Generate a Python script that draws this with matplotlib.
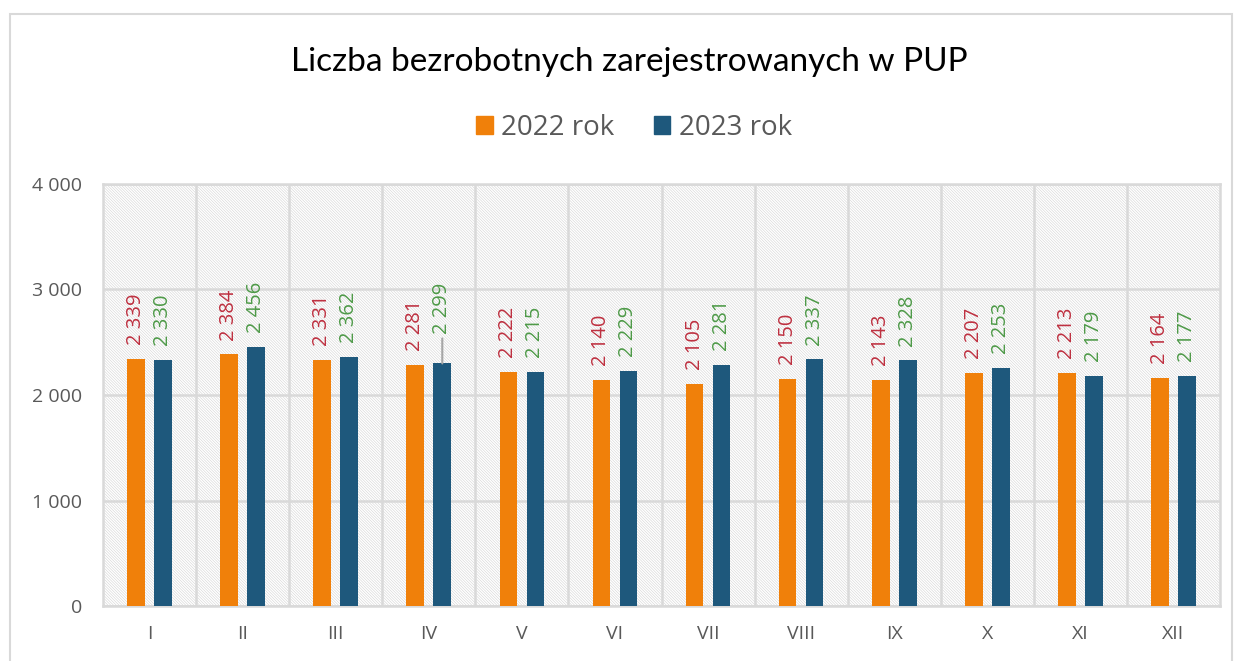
import matplotlib.pyplot as plt
from matplotlib.patches import Rectangle, Patch

plt.rcParams['font.family'] = ['Open Sans', 'DejaVu Sans']
plt.rcParams['hatch.linewidth'] = 0.4

months = ['I', 'II', 'III', 'IV', 'V', 'VI', 'VII', 'VIII', 'IX', 'X', 'XI', 'XII']
rok_2022 = [2339, 2384, 2331, 2281, 2222, 2140, 2105, 2150, 2143, 2207, 2213, 2164]
rok_2023 = [2330, 2456, 2362, 2299, 2215, 2229, 2281, 2337, 2328, 2253, 2179, 2177]

c22 = '#F0800A'
c23 = '#1E587C'
lab22 = '#BE3040'
lab23 = '#4E9A48'
grid = '#D9D9D9'


def fmt(v):
    return f'{v:,}'.replace(',', ' ')


fig = plt.figure(figsize=(12.34, 6.61), dpi=100)
# outer chart frame
fig.patches.append(Rectangle((10 / 1234, -0.01), 1222 / 1234, 1 - 14 / 661 + 0.01,
                             transform=fig.transFigure, fill=False,
                             edgecolor=grid, lw=1.5))
ax = fig.add_axes([103 / 1234, 55 / 661, 1117 / 1234, 422 / 661])

# hatched plot background
ax.add_patch(Rectangle((0, 0), 1, 1, transform=ax.transAxes, facecolor='white',
                       edgecolor='#D2D2D2', hatch='\\' * 12, lw=0, zorder=0))

x = list(range(len(months)))
w = 0.19
off = 0.145
ax.bar([i - off for i in x], rok_2022, w, color=c22, zorder=3)
ax.bar([i + off for i in x], rok_2023, w, color=c23, zorder=3)

for i in x:
    ax.annotate(fmt(rok_2022[i]), (i - off, rok_2022[i]), xytext=(0, 10),
                textcoords='offset points', rotation=90, ha='center', va='bottom',
                color=lab22, fontsize=14.5, zorder=4)
    lift = 21 if months[i] == 'IV' else 10
    ax.annotate(fmt(rok_2023[i]), (i + off, rok_2023[i]), xytext=(0, lift),
                textcoords='offset points', rotation=90, ha='center', va='bottom',
                color=lab23, fontsize=14.5, zorder=4)
    if months[i] == 'IV':
        ax.annotate('', (i + off, rok_2023[i]), xytext=(0, 18),
                    textcoords='offset points',
                    arrowprops=dict(arrowstyle='-', color='#A6A6A6', lw=1.5,
                                    shrinkA=0, shrinkB=0), zorder=4)

ax.set_xlim(-0.5, len(months) - 0.5)
ax.set_ylim(0, 4000)
ax.set_yticks([0, 1000, 2000, 3000, 4000])
ax.set_yticklabels([fmt(v) for v in [0, 1000, 2000, 3000, 4000]])
ax.set_xticks(x)
ax.set_xticklabels(months)
ax.set_xticks([i + 0.5 for i in x[:-1]], minor=True)
ax.grid(axis='y', which='major', color=grid, lw=1.8, zorder=1)
ax.grid(axis='x', which='minor', color=grid, lw=1.8, zorder=1)
ax.grid(axis='x', which='major', visible=False)
ax.tick_params(axis='both', which='both', length=0, colors='#595959', labelsize=14)
ax.tick_params(axis='x', pad=14)
ax.tick_params(axis='y', pad=15)
for s in ax.spines.values():
    s.set_color(grid)
    s.set_linewidth(1.8)

fig.text(629 / 1234, 1 - 62 / 661, 'Liczba bezrobotnych zarejestrowanych w PUP',
         ha='center', va='center', fontsize=24, family=['Lato', 'DejaVu Sans'])
handles = [Patch(color=c22, label='2022 rok'), Patch(color=c23, label='2023 rok')]
fig.legend(handles=handles, loc='center', bbox_to_anchor=(634 / 1234, 1 - 128 / 661),
           ncol=2, frameon=False, fontsize=20, handlelength=0.6, handleheight=0.6,
           handletextpad=0.3, columnspacing=1.4, labelcolor='#595959')

fig.savefig('out.png', dpi=100)
